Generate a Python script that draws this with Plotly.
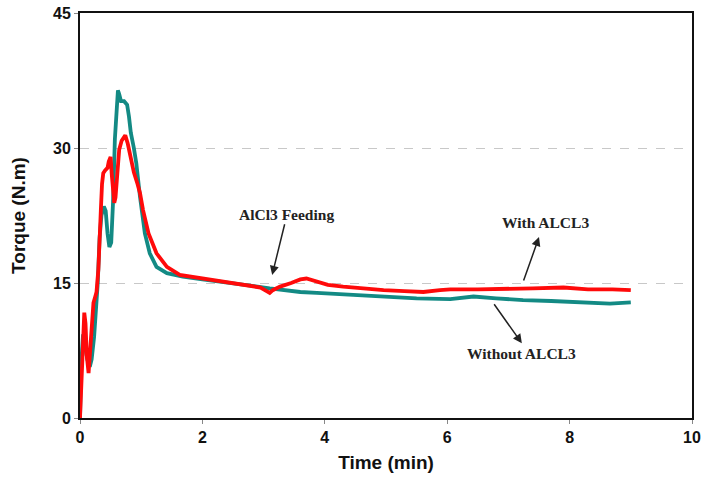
import plotly.graph_objects as go

# Without ALCL3 (teal)
t_without = [0, 0.02, 0.05, 0.08, 0.12, 0.16, 0.19, 0.23, 0.26, 0.29, 0.32, 0.35, 0.39, 0.42,
             0.45, 0.48, 0.51, 0.54, 0.57, 0.60, 0.62, 0.64, 0.67, 0.72, 0.77, 0.80, 0.83, 0.88,
             0.92, 0.98, 1.06, 1.14, 1.25, 1.42, 1.68, 2.0, 2.5, 2.9, 3.1, 3.32, 3.6, 3.87, 4.41,
             4.96, 5.5, 6.05, 6.43, 6.8, 7.24, 7.7, 8.17, 8.66, 9.0]
torque_without = [0, 6, 9.3, 8, 6.5, 5.7, 6.5, 9, 11.5, 15, 20, 22.5, 23.5, 23,
                  20.5, 19, 19.5, 24, 31, 35.5, 36.4, 36, 35.2, 35.2, 34.8, 33.5, 31.7, 30,
                  28.3, 24.6, 20.5, 18.3, 16.8, 16.1, 15.7, 15.4, 15.0, 14.6, 14.4, 14.2, 14.0, 13.9, 13.7,
                  13.5, 13.3, 13.2, 13.5, 13.3, 13.1, 13.0, 12.9, 12.7, 12.85]

# With ALCL3 (red)
t_with = [0, 0.02, 0.05, 0.07, 0.09, 0.11, 0.14, 0.17, 0.20, 0.22, 0.25, 0.27, 0.30, 0.32,
          0.34, 0.36, 0.38, 0.41, 0.45, 0.47, 0.50, 0.52, 0.54, 0.56, 0.58, 0.61, 0.64, 0.68,
          0.74, 0.78, 0.83, 0.88, 0.94, 0.98, 1.03, 1.12, 1.25, 1.42, 1.63, 2.07, 2.5, 2.78,
          2.95, 3.05, 3.10, 3.15, 3.27, 3.45, 3.60, 3.70, 3.85, 4.05, 4.30, 4.6, 4.96, 5.3,
          5.61, 5.88, 6.05, 6.5, 6.97, 7.4, 7.9, 8.3, 8.7, 9.0]
torque_with = [0, 3, 8, 11.7, 10.5, 7, 5, 8, 11.5, 12.8, 13.5, 14, 16.5, 19,
               23, 26, 27.2, 27.5, 27.8, 28.5, 29, 27, 25, 23.9, 24.5, 27.5, 29.8, 30.8,
               31.4, 30.5, 29, 27.3, 26, 25, 23.1, 20.5, 18.3, 16.8, 15.9, 15.4, 15.0, 14.6,
               14.5, 14.1, 13.9, 14.2, 14.6, 15.0, 15.4, 15.5, 15.2, 14.8, 14.6, 14.4, 14.2, 14.1,
               14.0, 14.2, 14.3, 14.3, 14.3, 14.4, 14.5, 14.3, 14.3, 14.2]

x_ticks = [0, 2, 4, 6, 8, 10]
y_ticks = [0, 15, 30, 45]

fig = go.Figure()
fig.add_trace(go.Scatter(x=t_without, y=torque_without, mode="lines",
                         line=dict(color="#138a84", width=3.8), name="Without ALCL3"))
fig.add_trace(go.Scatter(x=t_with, y=torque_with, mode="lines",
                         line=dict(color="#ff0a0a", width=3.8), name="With ALCL3"))

serif = "Times New Roman, Liberation Serif, serif"
txt = dict(family=serif, size=15.5, color="#222222", weight="bold")

# texts
fig.add_annotation(x=3.37, y=22.6, text="AlCl3 Feeding", showarrow=False, font=txt)
fig.add_annotation(x=7.61, y=21.7, text="With ALCL3", showarrow=False, font=txt)
fig.add_annotation(x=7.21, y=7.2, text="Without ALCL3", showarrow=False, font=txt)
# arrows
arrow = dict(showarrow=True, text="", axref="x", ayref="y", arrowhead=2, arrowsize=1.2,
             arrowwidth=1.5, arrowcolor="#222222", standoff=0, startstandoff=0)
fig.add_annotation(x=3.14, y=15.9, ax=3.35, ay=21.7, **arrow)
fig.add_annotation(x=7.50, y=20.1, ax=7.24, ay=15.1, **arrow)
fig.add_annotation(x=7.22, y=8.3, ax=6.75, ay=12.8, **arrow)

axfont = dict(family="Arial, Liberation Sans, sans-serif", size=16, color="#111111", weight="bold")
titlefont = dict(family="Arial, Liberation Sans, sans-serif", size=19, color="#111111", weight="bold")
fig.update_layout(
    width=703, height=482,
    margin=dict(l=80, r=11, t=13, b=64, autoexpand=False),
    paper_bgcolor="white", plot_bgcolor="white",
    showlegend=False,
    xaxis=dict(range=[0, 10], tickvals=x_ticks, showgrid=False, zeroline=False, automargin=False,
               showline=True, linecolor="#111111", linewidth=2, mirror=True,
               ticks="outside", ticklen=4, tickcolor="#888888", tickfont=axfont,
               title=dict(text="Time (min)", font=titlefont, standoff=10)),
    yaxis=dict(range=[0, 45], tickvals=y_ticks, showgrid=True, gridcolor="#c8c8c8",
               griddash="dash", gridwidth=1, zeroline=False, automargin=False,
               showline=True, linecolor="#111111", linewidth=2, mirror=True,
               ticks="outside", ticklen=4, tickcolor="#888888", tickfont=axfont,
               title=dict(text="Torque (N.m)", font=titlefont, standoff=22)),
)

fig.write_html("out.html")
